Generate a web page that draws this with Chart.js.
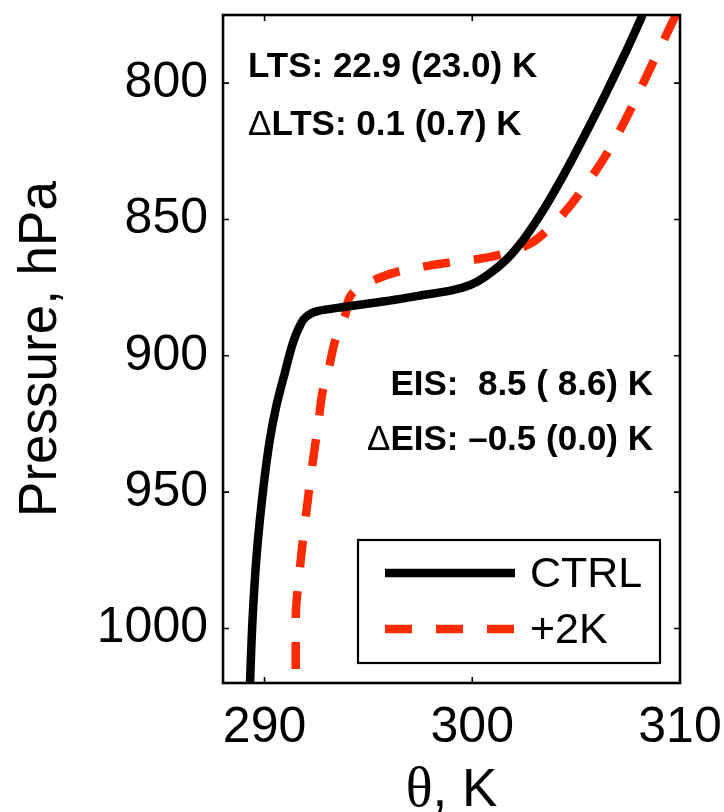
<!DOCTYPE html>
<html>
<head>
<meta charset="utf-8">
<script src="https://cdn.jsdelivr.net/npm/chart.js@4/dist/chart.umd.min.js"></script>
<style>
  html, body { margin: 0; padding: 0; background: #fff; }
  #wrap { width: 724px; height: 812px; }
</style>
</head>
<body>
<div id="wrap"><canvas id="profileChart" width="724" height="812"></canvas></div>
<script>
// Perfiles de temperatura potencial (CTRL y +2K)
const ctrlPressure = [775, 790, 805, 820, 835, 848, 858, 865, 870, 874, 876, 878, 880, 882, 883.5, 885.7, 889, 894.5, 907, 919, 931, 948, 973, 997, 1020];
const ctrlTheta    = [308.2, 307.3, 306.35, 305.35, 304.3, 303.3, 302.4, 301.6, 300.8, 299.9, 299.0, 297.4, 295.8, 293.9, 292.6, 292.0, 291.7, 291.4, 290.95, 290.55, 290.25, 289.95, 289.62, 289.42, 289.3];

const warmPressure = [775, 794, 810, 823, 831, 839, 846, 854, 859, 862.6, 864.5, 865.7, 868.8, 871.8, 877.3, 884.7, 894.5, 904.3, 912.9, 924, 940, 958, 978, 997, 1020];
const warmTheta    = [309.8, 308.6, 307.6, 306.7, 306.05, 305.3, 304.6, 303.6, 302.75, 301.5, 300.3, 299.0, 296.6, 295.4, 294.2, 293.9, 293.4, 293.1, 292.8, 292.6, 292.3, 292.0, 291.7, 291.5, 291.5];

const seriesLabels = ['CTRL', '+2K'];
const thetaTicks = [290, 300, 310];
const pressureTicks = [800, 850, 900, 950, 1000];

// Textos de estabilidad
const ltsLines = [['', 'LTS: 22.9 (23.0) K'], ['\u0394', 'LTS: 0.1 (0.7) K']];
const eisLines = [['', 'EIS:  8.5 ( 8.6) K'], ['\u0394', 'EIS: \u20130.5 (0.0) K']];
const xTitle = ['\u03b8', ', K'];

const FONT = "'Liberation Sans', Arial, Helvetica, sans-serif";
const SERIF = "'Liberation Serif', 'Times New Roman', serif";
const RED = '#ff2a00';

const toPoints = (xs, ys) => xs.map((x, i) => ({ x: x, y: ys[i] }));

// Marco, ticks hacia dentro, textos y leyenda
const framePlugin = {
  id: 'frame',
  afterDraw(chart) {
    const ctx = chart.ctx;
    const area = chart.chartArea;
    const xs = chart.scales.x;
    const ys = chart.scales.y;
    const tick = 6;

    ctx.save();
    ctx.strokeStyle = '#000';
    ctx.lineWidth = 1.6;
    ctx.beginPath();
    thetaTicks.forEach(v => {
      const px = xs.getPixelForValue(v);
      ctx.moveTo(px, area.bottom); ctx.lineTo(px, area.bottom - tick);
      ctx.moveTo(px, area.top); ctx.lineTo(px, area.top + tick);
    });
    pressureTicks.forEach(v => {
      const py = ys.getPixelForValue(v);
      ctx.moveTo(area.left, py); ctx.lineTo(area.left + tick, py);
      ctx.moveTo(area.right, py); ctx.lineTo(area.right - tick, py);
    });
    ctx.stroke();

    ctx.lineWidth = 2.6;
    ctx.strokeRect(area.left, area.top, area.right - area.left, area.bottom - area.top);

    // titulo del eje x: theta con serifa
    ctx.fillStyle = '#000';
    ctx.textBaseline = 'alphabetic';
    ctx.textAlign = 'left';
    ctx.font = '56px ' + SERIF;
    const wTheta = ctx.measureText(xTitle[0]).width;
    ctx.font = '53px ' + FONT;
    const wRest = ctx.measureText(xTitle[1]).width;
    const tx = (area.left + area.right) / 2 - (wTheta + wRest) / 2;
    ctx.font = '56px ' + SERIF;
    ctx.fillText(xTitle[0], tx, 806);
    ctx.font = '53px ' + FONT;
    ctx.fillText(xTitle[1], tx + wTheta, 806);

    // textos LTS (izquierda) y EIS (derecha)
    const bold = 'bold 35px ' + FONT;
    const normal = '35px ' + FONT;

    const drawPair = (pair, x, y, alignRight) => {
      ctx.font = normal;
      const wPre = ctx.measureText(pair[0]).width;
      ctx.font = bold;
      const wMain = ctx.measureText(pair[1]).width;
      const start = alignRight ? x - wPre - wMain : x;
      ctx.font = normal;
      ctx.fillText(pair[0], start, y);
      ctx.font = bold;
      ctx.fillText(pair[1], start + wPre, y);
    };

    drawPair(ltsLines[0], area.left + 25, area.top + 62, false);
    drawPair(ltsLines[1], area.left + 25, area.top + 120, false);
    drawPair(eisLines[0], area.right - 27, area.top + 380, true);
    drawPair(eisLines[1], area.right - 27, area.top + 435, true);

    // leyenda
    const lx0 = area.left + 135, lx1 = area.right - 20;
    const ly0 = area.bottom - 143, ly1 = area.bottom - 20;
    ctx.fillStyle = '#fff';
    ctx.fillRect(lx0, ly0, lx1 - lx0, ly1 - ly0);
    ctx.lineWidth = 2.2;
    ctx.strokeStyle = '#000';
    ctx.strokeRect(lx0, ly0, lx1 - lx0, ly1 - ly0);

    const rows = [ly0 + 33, ly0 + 89];
    chart.data.datasets.forEach((ds, i) => {
      ctx.beginPath();
      ctx.strokeStyle = ds.borderColor;
      ctx.lineWidth = ds.borderWidth;
      ctx.lineCap = 'butt';
      ctx.setLineDash(ds.borderDash || []);
      ctx.moveTo(lx0 + 27, rows[i]);
      ctx.lineTo(lx0 + 157, rows[i]);
      ctx.stroke();
      ctx.setLineDash([]);
      ctx.fillStyle = '#000';
      ctx.font = '43px ' + FONT;
      ctx.textBaseline = 'middle';
      ctx.fillText(ds.label, lx0 + 172, rows[i] + 2);
    });
    ctx.restore();
  }
};

const chart = new Chart(document.getElementById('profileChart'), {
  type: 'line',
  data: {
    datasets: [
      {
        label: seriesLabels[0],
        data: toPoints(ctrlTheta, ctrlPressure),
        indexAxis: 'y',
        borderColor: '#000',
        borderWidth: 8.5,
        cubicInterpolationMode: 'monotone',
        pointRadius: 0,
        fill: false,
        clip: 0,
      },
      {
        label: seriesLabels[1],
        data: toPoints(warmTheta, warmPressure),
        indexAxis: 'y',
        borderColor: RED,
        borderWidth: 8.5,
        borderDash: [27, 24],
        borderCapStyle: 'butt',
        cubicInterpolationMode: 'monotone',
        pointRadius: 0,
        fill: false,
        clip: 0,
      },
    ],
  },
  options: {
    responsive: false,
    animation: false,
    events: [],
    layout: { padding: { top: 15, right: 44, bottom: 0, left: 0 } },
    plugins: { legend: { display: false }, tooltip: { enabled: false } },
    scales: {
      x: {
        type: 'linear',
        min: 288,
        max: 310,
        afterBuildTicks: s => { s.ticks = thetaTicks.map(v => ({ value: v })); },
        afterFit: s => {
          s.height = 129;
          s.paddingLeft = 0;
          s.paddingRight = 0;
        },
        grid: { display: false, drawTicks: false },
        border: { display: false },
        ticks: {
          color: '#000',
          padding: 15,
          callback: v => String(v),
          font: { family: FONT, size: 50, lineHeight: 1.2 },
        },
        title: { display: false },
      },
      y: {
        type: 'linear',
        reverse: true,
        min: 775,
        max: 1020,
        afterBuildTicks: s => { s.ticks = pressureTicks.map(v => ({ value: v })); },
        afterFit: s => {
          s.width = 223;
          s.paddingTop = 0;
          s.paddingBottom = 0;
        },
        grid: { display: false, drawTicks: false },
        border: { display: false },
        ticks: {
          color: '#000',
          padding: 15,
          callback: v => String(v),
          font: { family: FONT, size: 50 },
        },
        title: {
          display: true,
          text: 'Pressure, hPa',
          color: '#000',
          padding: { top: 10, bottom: 0 },
          font: { family: FONT, size: 53, lineHeight: 1.2 },
        },
      },
    },
  },
  plugins: [framePlugin],
});
</script>
</body>
</html>
